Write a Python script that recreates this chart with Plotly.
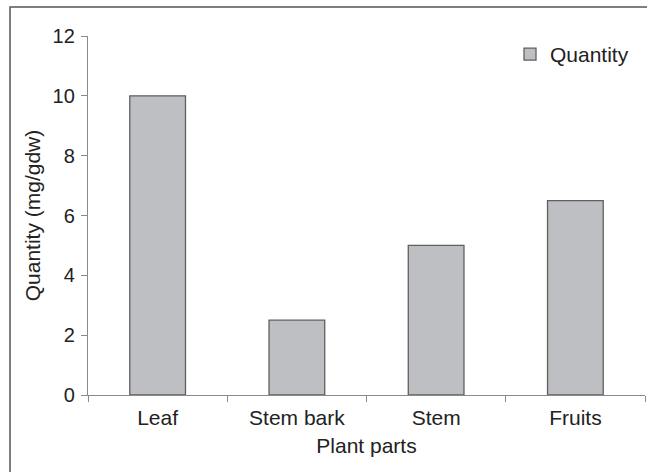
import plotly.graph_objects as go

categories = ["Leaf", "Stem bark", "Stem", "Fruits"]
quantity = [10, 2.5, 5, 6.5]
y_ticks = [0, 2, 4, 6, 8, 10, 12]

W, H = 647, 472
L, R, T, B = 88, 2, 36, 77
pw, ph = W - L - R, H - T - B

fig = go.Figure()
fig.add_trace(go.Bar(
    x=categories, y=quantity, name="Quantity",
    marker=dict(color="#bebfc3", line=dict(color="#5f5f5f", width=1.3)),
    showlegend=True,
))

font = dict(family="Liberation Sans, Arial, sans-serif", size=21, color="#222222")
yfont = dict(family="Liberation Sans, Arial, sans-serif", size=20, color="#222222")

fig.update_layout(
    width=W, height=H,
    margin=dict(l=L, r=R, t=T, b=B, autoexpand=False),
    paper_bgcolor="white", plot_bgcolor="white",
    font=font,
    bargap=0.6,
    showlegend=True,
    legend=dict(x=(510 - L) / pw, y=1 - (34 - T) / ph, xanchor="left", yanchor="top",
                bgcolor="rgba(0,0,0,0)", font=font, borderwidth=0),
    xaxis=dict(
        range=[-0.5, 3.5], tickson="boundaries", ticks="outside", ticklen=6,
        tickcolor="#8a8a8a", showline=True, linecolor="#8a8a8a", linewidth=1.3,
        showgrid=False, zeroline=False,
        title=dict(text="Plant parts", font=font, standoff=9),
        tickfont=font, ticklabelstandoff=4,
    ),
    yaxis=dict(
        range=[0, 12], tickvals=y_ticks, ticks="outside", ticklen=6,
        tickcolor="#8a8a8a", showline=True, linecolor="#8a8a8a", linewidth=1.3,
        showgrid=False, zeroline=False,
        title=dict(text="Quantity (mg/gdw)", font=font, standoff=6),
        tickfont=yfont, ticklabelstandoff=2,
    ),
    shapes=[dict(
        type="rect", xref="paper", yref="paper",
        x0=(10 - L) / pw, x1=(W + 5 - L) / pw,
        y0=-(H + 5 - T - ph) / ph, y1=1 + (T - 7) / ph,
        line=dict(color="#555555", width=1.5), fillcolor="rgba(0,0,0,0)", layer="below",
    )],
)

fig.write_html(
    "out.html",
    config={"displayModeBar": False},
    post_script="document.body.style.margin='0';document.body.style.overflow='hidden';",
)
